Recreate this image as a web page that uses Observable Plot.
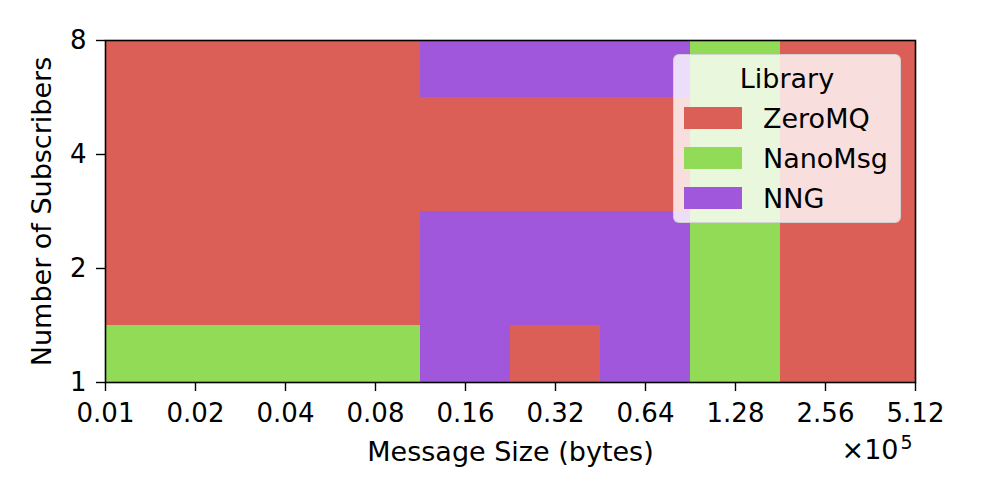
<!DOCTYPE html>
<html>
<head>
<meta charset="utf-8">
<script src="https://cdn.jsdelivr.net/npm/d3@7"></script>
<script src="https://cdn.jsdelivr.net/npm/@observablehq/plot@0.6"></script>
<style>
  html, body { margin: 0; padding: 0; background: #fff; }
  #wrap { position: relative; width: 996px; height: 498px; font-family: "DejaVu Sans", sans-serif; }
  #legend {
    position: absolute; left: 673px; top: 54px; width: 228px; height: 169px;
    box-sizing: border-box; background: rgba(255,255,255,0.8);
    border: 1.5px solid rgba(204,204,204,0.8); border-radius: 6px;
    font-size: 27px; color: #000;
  }
  #legend .title { position: absolute; left: 0; right: 0; top: 8px; text-align: center; line-height: 32px; }
  #legend .item { position: absolute; left: 10px; height: 32px; display: flex; align-items: center; }
  #legend .sw { width: 58px; height: 22px; margin-right: 21px; }
</style>
</head>
<body>
<div id="wrap"></div>
<script>
// Message sizes (×10^5 bytes)
const sizes = [0.01, 0.02, 0.04, 0.08, 0.16, 0.32, 0.64, 1.28, 2.56, 5.12];
const sizeLabels = ["0.01", "0.02", "0.04", "0.08", "0.16", "0.32", "0.64", "1.28", "2.56", "5.12"];
// Number of subscribers
const subscribers = [1, 2, 4, 8];
const subscriberLabels = ["1", "2", "4", "8"];
// Best library per (subscribers, size)
const winners1 = ["NanoMsg", "NanoMsg", "NanoMsg", "NanoMsg", "NNG", "ZeroMQ", "NNG", "NanoMsg", "ZeroMQ", "ZeroMQ"];
const winners2 = ["ZeroMQ", "ZeroMQ", "ZeroMQ", "ZeroMQ", "NNG", "NNG", "NNG", "NanoMsg", "ZeroMQ", "ZeroMQ"];
const winners4 = ["ZeroMQ", "ZeroMQ", "ZeroMQ", "ZeroMQ", "ZeroMQ", "ZeroMQ", "ZeroMQ", "NanoMsg", "ZeroMQ", "ZeroMQ"];
const winners8 = ["ZeroMQ", "ZeroMQ", "ZeroMQ", "ZeroMQ", "NNG", "NNG", "NNG", "NanoMsg", "ZeroMQ", "ZeroMQ"];
const libraries = ["ZeroMQ", "NanoMsg", "NNG"];
const libraryColors = ["#db5f57", "#91db57", "#a157db"];

const winnersBySubs = [winners1, winners2, winners4, winners8];
const xMin = sizes[0], xMax = sizes[sizes.length - 1];
const yMin = subscribers[0], yMax = subscribers[subscribers.length - 1];
const cells = [];
subscribers.forEach((s, j) => {
  sizes.forEach((x, i) => {
    cells.push({
      x1: Math.max(xMin, x / Math.SQRT2), x2: Math.min(xMax, x * Math.SQRT2),
      y1: Math.max(yMin, s / Math.SQRT2), y2: Math.min(yMax, s * Math.SQRT2),
      lib: winnersBySubs[j][i]
    });
  });
});

const chart = Plot.plot({
  width: 996, height: 498,
  marginLeft: 105, marginRight: 81, marginTop: 40, marginBottom: 116,
  style: { fontFamily: "DejaVu Sans, sans-serif", fontSize: "26px", color: "#000", background: "#fff" },
  x: { type: "log", base: 2, domain: [xMin, xMax] },
  y: { type: "log", base: 2, domain: [yMin, yMax] },
  color: { domain: libraries, range: libraryColors },
  marks: [
    Plot.rect(cells, { x1: "x1", x2: "x2", y1: "y1", y2: "y2", fill: "lib", shapeRendering: "crispEdges" }),
    Plot.frame({ stroke: "#000", strokeWidth: 1.6 }),
    Plot.axisX({ ticks: sizes, tickFormat: (d) => sizeLabels[sizes.indexOf(d)], tickSize: 9, tickPadding: 12, strokeWidth: 1.4, label: null }),
    Plot.axisY({ ticks: subscribers, tickFormat: (d) => subscriberLabels[subscribers.indexOf(d)], tickSize: 9, tickPadding: 10, strokeWidth: 1.4, label: null }),
    Plot.text(["Message Size (bytes)"], { frameAnchor: "bottom", textAnchor: "middle", lineAnchor: "middle", dy: 70, fontSize: 27 }),
    Plot.text(["Number of Subscribers"], { frameAnchor: "left", textAnchor: "middle", lineAnchor: "middle", dx: -63, rotate: -90, fontSize: 27 }),
    Plot.text(["×10"], { frameAnchor: "bottom-right", textAnchor: "end", lineAnchor: "middle", dy: 68, dx: -17, fontSize: 27 }),
    Plot.text(["5"], { frameAnchor: "bottom-right", textAnchor: "end", lineAnchor: "middle", dy: 60, dx: -3, fontSize: 19 })
  ]
});
const wrap = document.getElementById("wrap");
wrap.appendChild(chart);

// legend
const legend = document.createElement("div");
legend.id = "legend";
const t = document.createElement("div");
t.className = "title";
t.textContent = "Library";
legend.appendChild(t);
libraries.forEach((lib, i) => {
  const it = document.createElement("div");
  it.className = "item";
  it.style.top = (47 + i * 40) + "px";
  const sw = document.createElement("span");
  sw.className = "sw";
  sw.style.background = libraryColors[i];
  const lb = document.createElement("span");
  lb.textContent = lib;
  it.appendChild(sw);
  it.appendChild(lb);
  legend.appendChild(it);
});
wrap.appendChild(legend);
</script>
</body>
</html>
